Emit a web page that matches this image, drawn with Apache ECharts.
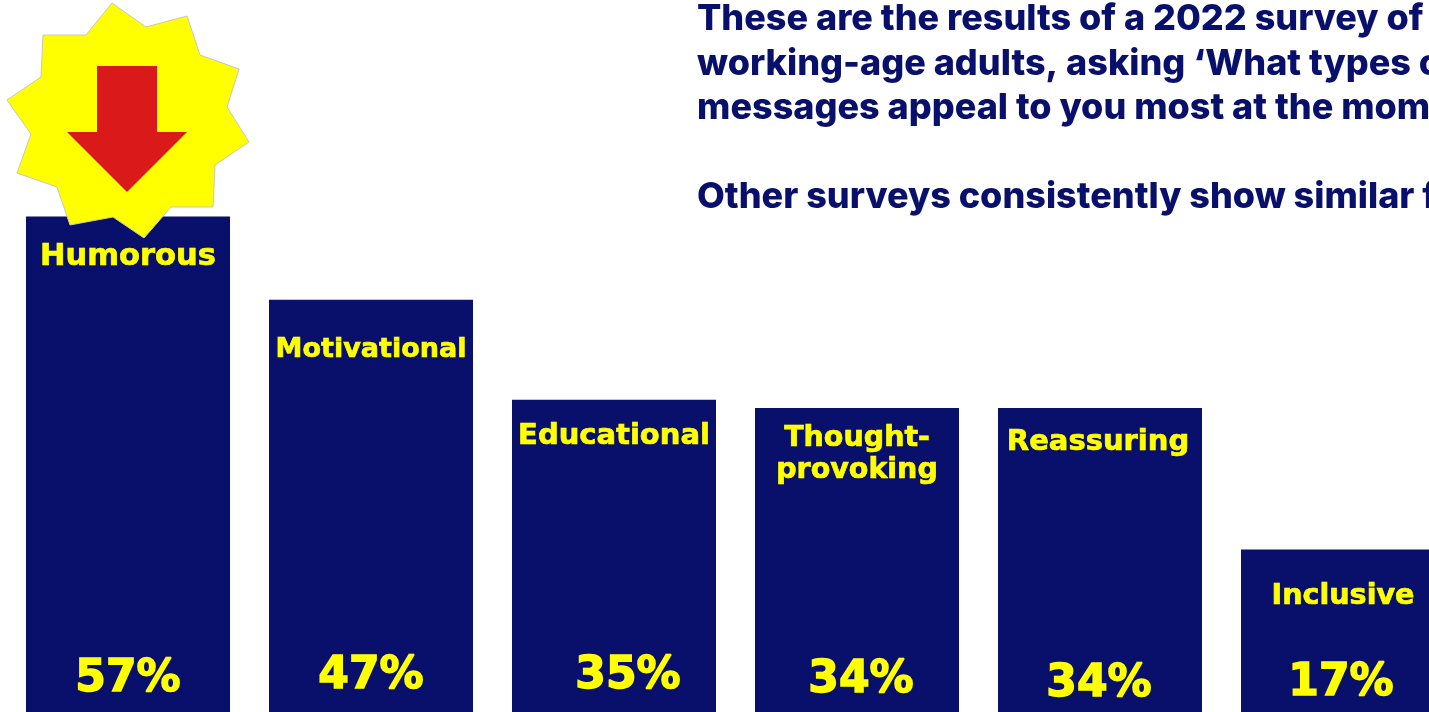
<!DOCTYPE html>
<html>
<head>
<meta charset="utf-8">
<style>html,body{margin:0;padding:0;background:#fff;overflow:hidden}#chart{width:1429px;height:712px}</style>
<script src="https://cdn.jsdelivr.net/npm/echarts@6/dist/echarts.min.js"></script>
</head>
<body>
<div id="chart"></div>
<script>
// Survey results
const categories = ['Humorous', 'Motivational', 'Educational', 'Thought-\nprovoking', 'Reassuring', 'Inclusive'];
const shares = [57, 47, 35, 34, 34, 17];
const headingLines = [
  'These are the results of a 2022 survey of',
  'working-age adults, asking ‘What types of',
  'messages appeal to you most at the moment?’',
  '',
  'Other surveys consistently show similar findings.'
];

// Label layout: per-bar text size and nudges in pixels
const nameSize = [30.5, 27, 29, 28.5, 29, 28.6];
const nameOffset = [[0, 20], [0, 29], [0, 16], [0, 10], [-2, 13], [0, 26]];
const pctOffset = [[0, -5], [0, -8], [14, -8], [4, -4], [-1, 0], [-2, -1]];

const NAVY = '#08106b';
const YELLOW = '#ffff00';

// Starburst and arrow that flag the top result
const burst = [[112,3],[146,27],[187,16],[200,55],[239,69],[227,107],[249,142],[215,165],[213,207],[171,207],[144,238],[113,217],[70,225],[57,187],[17,173],[31,134],[7,100],[41,77],[43,35],[86,35]];
const arrow = [[97,66],[157,66],[157,132],[187,132],[127,192],[67,132],[97,132]];

const chart = echarts.init(document.getElementById('chart'), null, { renderer: 'canvas' });
chart.setOption({
  animation: false,
  backgroundColor: '#ffffff',
  grid: { left: 6.5, top: 0, width: 1458, height: 712, outerBoundsMode: 'none' },
  xAxis: { type: 'category', data: categories, show: false },
  yAxis: { type: 'value', min: -2.5, max: 83, startValue: -2.5, show: false },
  series: [
    {
      type: 'bar',
      barWidth: 204,
      clip: false,
      itemStyle: { color: NAVY },
      data: shares.map((v, i) => ({
        value: v,
        label: {
          show: true,
          position: 'insideTop',
          formatter: categories[i],
          offset: nameOffset[i],
          color: YELLOW,
          textBorderColor: YELLOW,
          textBorderWidth: 0.7,
          fontFamily: 'DejaVu Sans',
          fontWeight: 'bold',
          fontSize: nameSize[i],
          lineHeight: 32
        }
      }))
    },
    {
      type: 'bar',
      barWidth: 204,
      barGap: '-100%',
      clip: false,
      itemStyle: { color: 'rgba(0,0,0,0)' },
      data: shares.map((v, i) => ({
        value: v,
        label: {
          show: true,
          position: 'insideBottom',
          formatter: v + '%',
          offset: pctOffset[i],
          color: YELLOW,
          textBorderColor: YELLOW,
          textBorderWidth: 1.5,
          fontFamily: 'DejaVu Sans',
          fontWeight: 'bold',
          fontSize: 44
        }
      }))
    }
  ],
  graphic: [
    { type: 'polygon', z: 50, shape: { points: burst }, style: { fill: YELLOW, stroke: '#c9c9b0', lineWidth: 1 } },
    { type: 'polygon', z: 51, shape: { points: arrow }, style: { fill: '#da1a1a' } },
    {
      type: 'text', z: 52, left: 697, top: -3,
      style: {
        text: headingLines.join('\n'),
        fill: NAVY,
        font: '800 36px Inter',
        lineHeight: 44.5
      }
    }
  ]
});
</script>
</body>
</html>
